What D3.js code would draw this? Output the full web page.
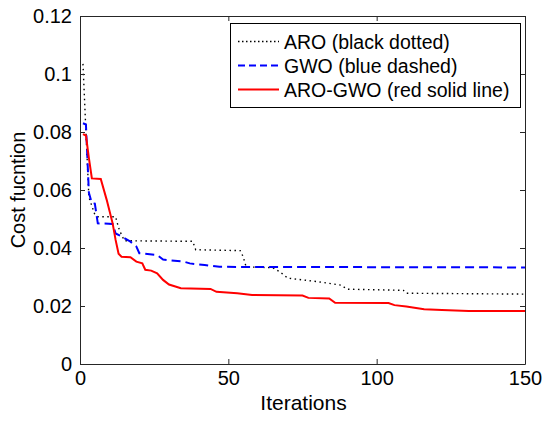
<!DOCTYPE html>
<html>
<head>
<meta charset="utf-8">
<script src="https://cdn.jsdelivr.net/npm/d3@7"></script>
<style>
  html, body { margin: 0; padding: 0; background: #fff; }
  svg { display: block; font-family: "Liberation Sans", Arial, sans-serif; }
</style>
</head>
<body>
<svg id="chart" width="550" height="421"></svg>
<script>
// ---- data (iteration, cost) ----
const aroData = [[1,0.1035],[2,0.08],[3,0.0575],[5,0.0515],[6,0.0508],[12,0.0508],[13,0.047],[14,0.0445],[15,0.0425],[38,0.0423],[39,0.0394],[54,0.0391],[55,0.037],[56,0.0335],[65,0.0332],[67,0.032],[69,0.0305],[70,0.0296],[80,0.0284],[88,0.0272],[90,0.0258],[109,0.0254],[110,0.0244],[150,0.0241]];
const gwoData = [[1,0.083],[2,0.0826],[3,0.059],[4,0.0555],[5,0.0553],[6,0.0485],[11,0.0483],[12,0.045],[14,0.044],[17,0.0422],[19,0.0405],[20,0.0382],[26,0.0376],[28,0.036],[35,0.0353],[37,0.0347],[42,0.0341],[47,0.0335],[150,0.0333]];
const aroGwoData = [[1,0.0793],[2,0.0788],[3,0.071],[4,0.064],[7,0.0638],[9,0.0566],[11,0.0485],[12,0.0428],[13,0.038],[14,0.037],[17,0.0368],[19,0.0353],[21,0.0347],[22,0.0325],[24,0.0322],[26,0.0313],[28,0.029],[30,0.0274],[34,0.0261],[44,0.0259],[46,0.0249],[53,0.0244],[58,0.0238],[75,0.0236],[77,0.0228],[84,0.0226],[86,0.0211],[104,0.021],[106,0.0203],[110,0.0198],[116,0.0189],[122,0.0186],[131,0.0183],[150,0.0183]];
const xTicks = [0, 50, 100, 150];
const yTicks = [0, 0.02, 0.04, 0.06, 0.08, 0.1, 0.12];
const seriesNames = ["ARO (black dotted)", "GWO (blue dashed)", "ARO-GWO (red solid line)"];
const xLabel = "Iterations";
const yLabel = "Cost fucntion";

// ---- layout ----
const pL = 80, pR = 525, pT = 16, pB = 364;
const svg = d3.select("#chart");
const x = d3.scaleLinear().domain([0, 150]).range([pL, pR]);
const y = d3.scaleLinear().domain([0, 0.12]).range([pB, pT]);
const axisColor = "#262626";
const fs = 20;

const line = d3.line().x(d => x(d[0])).y(d => y(d[1]));

const styles = [
  { data: aroData, color: "#000", width: 1.4, dash: "1.5,3.5", legDash: "1.5,2.5" },
  { data: gwoData, color: "#0000ff", width: 2, dash: "9,5", legDash: "7,4" },
  { data: aroGwoData, color: "#ff0000", width: 2, dash: null, legDash: null }
];

// lines
styles.forEach(s => {
  svg.append("path")
    .datum(s.data)
    .attr("d", line)
    .attr("fill", "none")
    .attr("stroke", s.color)
    .attr("stroke-width", s.width)
    .attr("stroke-dasharray", s.dash);
});

// axes (MATLAB-style box with inward ticks on all sides)
const tl = -5;
const fmtY = d => d === 0 ? "0" : String(+d.toFixed(2));
const axL = d3.axisLeft(y).tickValues(yTicks).tickFormat(fmtY).tickSizeInner(tl).tickSizeOuter(0).tickPadding(8);
const axB = d3.axisBottom(x).tickValues(xTicks).tickFormat(d3.format("d")).tickSizeInner(tl).tickSizeOuter(0).tickPadding(7);
const axR = d3.axisRight(y).tickValues(yTicks).tickFormat("").tickSizeInner(tl).tickSizeOuter(0);
const axT = d3.axisTop(x).tickValues(xTicks).tickFormat("").tickSizeInner(tl).tickSizeOuter(0);

function styleAxis(g) {
  g.selectAll("path").attr("stroke", axisColor).attr("stroke-width", 1);
  g.selectAll("line").attr("stroke", axisColor).attr("stroke-width", 1);
  g.selectAll("text").attr("fill", "#000").attr("font-size", fs).attr("font-family", "Liberation Sans, Arial, sans-serif");
}
svg.append("g").attr("transform", `translate(${pL},0)`).call(axL).call(styleAxis);
svg.append("g").attr("transform", `translate(0,${pB})`).call(axB).call(styleAxis);
svg.append("g").attr("transform", `translate(${pR},0)`).call(axR).call(styleAxis);
svg.append("g").attr("transform", `translate(0,${pT})`).call(axT).call(styleAxis);

// axis labels
svg.append("text")
  .attr("x", (pL + pR) / 2 + 1).attr("y", 410)
  .attr("text-anchor", "middle")
  .attr("font-size", 21)
  .text(xLabel);
svg.append("text")
  .attr("transform", `translate(25,${(pT + pB) / 2}) rotate(-90)`)
  .attr("text-anchor", "middle")
  .attr("font-size", 20)
  .text(yLabel);

// legend
const lg = svg.append("g");
lg.append("rect")
  .attr("x", 230.5).attr("y", 23.5).attr("width", 290).attr("height", 84)
  .attr("fill", "#fff").attr("stroke", "#000").attr("stroke-width", 1);
const rowY = [41.5, 65.5, 89.5];
styles.forEach((s, i) => {
  lg.append("line")
    .attr("x1", 238).attr("x2", 279)
    .attr("y1", rowY[i]).attr("y2", rowY[i])
    .attr("stroke", s.color)
    .attr("stroke-width", s.width)
    .attr("stroke-dasharray", s.legDash);
  lg.append("text")
    .attr("x", 284).attr("y", rowY[i] + 7)
    .attr("font-size", 19.5)
    .text(seriesNames[i]);
});
</script>
</body>
</html>
